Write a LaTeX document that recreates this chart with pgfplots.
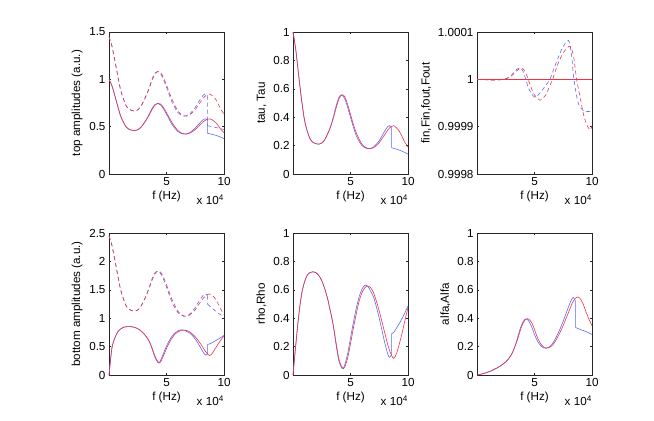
\documentclass[border=0pt]{standalone}
\usepackage{pgfplots}
\pgfplotsset{compat=1.18}
\usepackage{fontspec}
\setmainfont{Liberation Sans}
\definecolor{mblue}{RGB}{85,105,255}
\definecolor{mred}{RGB}{240,50,70}
\newcommand{\mfont}{\fontsize{11.7}{13}\selectfont}
\pgfplotsset{
  mstyle/.style={
    scale only axis, width=115bp, height=142bp, anchor=south west,
    xmin=0, xmax=10, xtick={5,10},
    tick align=inside, major tick length=2bp,
    axis line style={line width=0.5pt, black!85},
    every tick/.style={black!85, line width=0.4pt},
    tick label style={font=\mfont},
    label style={font=\mfont},
    /pgf/number format/assume math mode=true,
    xlabel={f (Hz)},
    xlabel style={yshift=2bp},
    clip=false,
    every axis plot/.append style={line width=0.6pt, smooth, tension=0.5},
  },
  bl/.style={mblue, solid},
  rd/.style={mred, solid},
  bld/.style={mblue, dash pattern=on 4bp off 3bp},
  rdd/.style={mred, dash pattern=on 4bp off 3bp},
}
\newcommand{\xpow}{\node[anchor=base east, font=\mfont, inner sep=0pt] at (rel axis cs:1,0) [yshift=-31bp] {x 10\textsuperscript{4}};}
\begin{document}
\begin{tikzpicture}
\useasboundingbox (0,0) rectangle (654bp,421bp);

% ---------------- top amplitudes
\begin{axis}[mstyle, at={(109bp,247bp)}, ymin=0, ymax=1.5, ytick={0,0.5,1,1.5}, ylabel={top amplitudes (a.u.)}]
\addplot[bld] coordinates {(0,1.45)(0.25,1.353)(0.5,1.205)(0.75,1.045)(1,0.893)(1.25,0.794)(1.5,0.718)(1.75,0.683)(2,0.67)(2.25,0.664)(2.5,0.677)(2.75,0.71)(3,0.767)(3.25,0.832)(3.5,0.917)(3.75,1.005)(4,1.066)(4.25,1.08)(4.5,1.056)(4.75,0.994)(5,0.917)(5.25,0.833)(5.5,0.753)(5.75,0.695)(6,0.648)(6.25,0.624)(6.5,0.612)(6.75,0.615)(7,0.632)(7.25,0.664)(7.5,0.703)(7.75,0.753)(8,0.801)(8.25,0.839)(8.4,0.845)(8.55,0.827)};
\addplot[bld, sharp plot] coordinates {(8.55,0.827)(8.56,0.51)};
\addplot[bld] coordinates {(8.56,0.51)(9,0.5)(9.5,0.485)(10,0.47)};
\addplot[bl] coordinates {(0,1.0)(0.25,0.933)(0.5,0.831)(0.75,0.721)(1,0.616)(1.25,0.548)(1.5,0.495)(1.75,0.471)(2,0.462)(2.25,0.458)(2.5,0.467)(2.75,0.49)(3,0.529)(3.25,0.574)(3.5,0.632)(3.75,0.693)(4,0.735)(4.25,0.745)(4.5,0.728)(4.75,0.686)(5,0.632)(5.25,0.574)(5.5,0.52)(5.75,0.48)(6,0.447)(6.25,0.43)(6.5,0.422)(6.75,0.424)(7,0.436)(7.25,0.458)(7.5,0.485)(7.75,0.52)(8,0.552)(8.25,0.579)(8.4,0.583)(8.55,0.57)};
\addplot[bl, sharp plot] coordinates {(8.55,0.57)(8.56,0.43)};
\addplot[bl] coordinates {(8.56,0.43)(9,0.418)(9.5,0.4)(10,0.374)};
\addplot[rdd] coordinates {(0,1.45)(0.25,1.353)(0.5,1.205)(0.75,1.045)(1,0.893)(1.25,0.794)(1.5,0.718)(1.75,0.683)(2,0.67)(2.25,0.664)(2.5,0.677)(2.75,0.71)(3,0.767)(3.25,0.832)(3.5,0.905)(3.75,0.989)(4,1.056)(4.25,1.083)(4.5,1.07)(4.75,1.015)(5,0.94)(5.25,0.858)(5.5,0.782)(5.75,0.718)(6,0.664)(6.25,0.632)(6.5,0.615)(6.75,0.612)(7,0.624)(7.25,0.648)(7.5,0.68)(7.75,0.725)(8,0.767)(8.25,0.808)(8.5,0.835)(8.75,0.845)(9,0.827)(9.25,0.794)(9.5,0.74)(9.75,0.68)(10,0.632)};
\addplot[rd] coordinates {(0,1.0)(0.25,0.933)(0.5,0.831)(0.75,0.721)(1,0.616)(1.25,0.548)(1.5,0.495)(1.75,0.471)(2,0.462)(2.25,0.458)(2.5,0.467)(2.75,0.49)(3,0.529)(3.25,0.574)(3.5,0.624)(3.75,0.682)(4,0.728)(4.25,0.747)(4.5,0.738)(4.75,0.7)(5,0.648)(5.25,0.592)(5.5,0.539)(5.75,0.495)(6,0.458)(6.25,0.436)(6.5,0.424)(6.75,0.422)(7,0.43)(7.25,0.447)(7.5,0.469)(7.75,0.5)(8,0.529)(8.25,0.557)(8.5,0.576)(8.75,0.583)(9,0.57)(9.25,0.548)(9.5,0.51)(9.75,0.469)(10,0.436)};
\xpow
\end{axis}

% ---------------- tau
\begin{axis}[mstyle, at={(293bp,247bp)}, ymin=0, ymax=1, ytick={0,0.2,0.4,0.6,0.8,1}, ylabel={tau, Tau}]
\addplot[bl] coordinates {(0,1)(0.25,0.87)(0.5,0.69)(0.75,0.52)(1,0.38)(1.25,0.3)(1.5,0.245)(1.75,0.222)(2,0.213)(2.25,0.21)(2.5,0.218)(2.75,0.24)(3,0.28)(3.25,0.33)(3.5,0.4)(3.75,0.48)(4,0.54)(4.25,0.555)(4.5,0.53)(4.75,0.47)(5,0.4)(5.25,0.33)(5.5,0.27)(5.75,0.23)(6,0.2)(6.25,0.185)(6.5,0.178)(6.75,0.18)(7,0.19)(7.25,0.21)(7.5,0.235)(7.75,0.27)(8,0.305)(8.25,0.335)(8.4,0.34)(8.55,0.325)};
\addplot[bl, sharp plot] coordinates {(8.55,0.325)(8.56,0.185)};
\addplot[bl] coordinates {(8.56,0.185)(9,0.175)(9.5,0.16)(10,0.14)};
\addplot[rd] coordinates {(0,1)(0.25,0.87)(0.5,0.69)(0.75,0.52)(1,0.38)(1.25,0.3)(1.5,0.245)(1.75,0.222)(2,0.213)(2.25,0.21)(2.5,0.218)(2.75,0.24)(3,0.28)(3.25,0.33)(3.5,0.39)(3.75,0.465)(4,0.53)(4.25,0.558)(4.5,0.545)(4.75,0.49)(5,0.42)(5.25,0.35)(5.5,0.29)(5.75,0.245)(6,0.21)(6.25,0.19)(6.5,0.18)(6.75,0.178)(7,0.185)(7.25,0.2)(7.5,0.22)(7.75,0.25)(8,0.28)(8.25,0.31)(8.5,0.332)(8.75,0.34)(9,0.325)(9.25,0.3)(9.5,0.26)(9.75,0.22)(10,0.19)};
\xpow
\end{axis}

% ---------------- fin, Fin, fout, Fout  (deviation from 1 in units of 1e-4)
\begin{axis}[mstyle, at={(477bp,247bp)}, ymin=-2, ymax=1, ytick={-2,-1,0,1}, yticklabels={0.9998,0.9999,1,1.0001}, ylabel={fin,Fin,fout,Fout}]
\addplot[bl, sharp plot] coordinates {(0,0)(10,0)};
\addplot[bld] coordinates {(0,0)(0.5,-0.003)(1,-0.012)(1.5,-0.015)(2,-0.01)(2.5,0.01)(3,0.09)(3.4,0.2)(3.75,0.24)(4,0.17)(4.24,0)(4.5,-0.2)(5.03,-0.38)(5.5,-0.28)(6,-0.12)(6.34,0)(6.8,0.3)(7.4,0.65)(7.94,0.82)(8.2,0.55)(8.43,0)(8.8,-0.5)(9.24,-0.66)(9.6,-0.68)(10,-0.68)};
\addplot[rd, sharp plot] coordinates {(0,0)(10,0)};
\addplot[rdd] coordinates {(0,0)(0.5,-0.003)(1,-0.012)(1.5,-0.015)(2,-0.01)(2.5,0.01)(3,0.07)(3.4,0.17)(3.85,0.24)(4.2,0.16)(4.45,0)(4.7,-0.17)(5,-0.33)(5.5,-0.44)(6,-0.32)(6.3,-0.15)(6.57,0)(7,0.3)(7.5,0.56)(8.08,0.7)(8.4,0.48)(8.66,0)(9,-0.42)(9.24,-0.72)(9.5,-0.93)(9.83,-1.07)(10,-0.98)};
\xpow
\end{axis}

% ---------------- bottom amplitudes
\begin{axis}[mstyle, at={(109bp,46bp)}, ymin=0, ymax=2.5, ytick={0,0.5,1,1.5,2,2.5}, ylabel={bottom amplitudes (a.u.)}]
\addplot[bld] coordinates {(0,2.45)(0.25,2.286)(0.5,2.036)(0.75,1.766)(1,1.509)(1.25,1.342)(1.5,1.213)(1.75,1.154)(2,1.132)(2.25,1.122)(2.5,1.144)(2.75,1.2)(3,1.296)(3.25,1.406)(3.5,1.549)(3.75,1.697)(4,1.8)(4.25,1.825)(4.5,1.784)(4.75,1.68)(5,1.549)(5.25,1.407)(5.5,1.273)(5.75,1.175)(6,1.096)(6.25,1.054)(6.5,1.034)(6.75,1.039)(7,1.068)(7.25,1.123)(7.5,1.188)(7.75,1.273)(8,1.353)(8.25,1.418)(8.4,1.429)(8.55,1.397)};
\addplot[bld, sharp plot] coordinates {(8.55,1.397)(8.56,1.25)};
\addplot[bld] coordinates {(8.56,1.25)(9,1.17)(9.5,1.09)(10,1.02)};
\addplot[bl] coordinates {(0,0)(0.25,0.469)(0.5,0.648)(0.75,0.755)(1,0.809)(1.25,0.84)(1.5,0.85)(1.75,0.853)(2,0.849)(2.25,0.837)(2.5,0.815)(2.75,0.781)(3,0.735)(3.25,0.671)(3.5,0.592)(3.75,0.458)(4,0.308)(4.25,0.219)(4.35,0.212)(4.5,0.265)(4.75,0.387)(5,0.51)(5.25,0.608)(5.5,0.686)(5.75,0.742)(6,0.778)(6.25,0.795)(6.5,0.791)(6.75,0.768)(7,0.742)(7.25,0.693)(7.5,0.632)(7.75,0.557)(8,0.469)(8.25,0.381)(8.4,0.352)(8.55,0.374)};
\addplot[bl, sharp plot] coordinates {(8.55,0.374)(8.56,0.539)};
\addplot[bl] coordinates {(8.56,0.539)(8.75,0.548)(9,0.574)(9.5,0.632)(10,0.697)};
\addplot[rdd] coordinates {(0,2.45)(0.25,2.286)(0.5,2.036)(0.75,1.766)(1,1.509)(1.25,1.342)(1.5,1.213)(1.75,1.154)(2,1.132)(2.25,1.122)(2.5,1.144)(2.75,1.2)(3,1.296)(3.25,1.406)(3.5,1.529)(3.75,1.671)(4,1.784)(4.25,1.83)(4.5,1.808)(4.75,1.715)(5,1.588)(5.25,1.45)(5.5,1.321)(5.75,1.213)(6,1.122)(6.25,1.068)(6.5,1.039)(6.75,1.034)(7,1.054)(7.25,1.095)(7.5,1.149)(7.75,1.225)(8,1.296)(8.25,1.365)(8.5,1.411)(8.75,1.428)(9,1.397)(9.25,1.342)(9.5,1.25)(9.75,1.149)(10,1.068)};
\addplot[rd] coordinates {(0,0)(0.25,0.469)(0.5,0.648)(0.75,0.755)(1,0.809)(1.25,0.84)(1.5,0.85)(1.75,0.853)(2,0.849)(2.25,0.837)(2.5,0.815)(2.75,0.781)(3,0.735)(3.25,0.671)(3.5,0.592)(3.75,0.474)(4,0.332)(4.25,0.235)(4.4,0.214)(4.5,0.235)(4.75,0.346)(5,0.469)(5.25,0.574)(5.5,0.656)(5.75,0.721)(6,0.762)(6.25,0.784)(6.5,0.791)(6.75,0.784)(7,0.762)(7.25,0.721)(7.5,0.671)(7.75,0.608)(8,0.539)(8.25,0.458)(8.5,0.387)(8.75,0.342)(9,0.387)(9.25,0.469)(9.5,0.548)(9.75,0.624)(10,0.688)};
\xpow
\end{axis}

% ---------------- rho
\begin{axis}[mstyle, at={(293bp,46bp)}, ymin=0, ymax=1, ytick={0,0.2,0.4,0.6,0.8,1}, ylabel={rho,Rho}]
\addplot[bl] coordinates {(0,0)(0.25,0.22)(0.5,0.42)(0.75,0.57)(1,0.655)(1.25,0.705)(1.5,0.722)(1.75,0.727)(2,0.72)(2.25,0.7)(2.5,0.665)(2.75,0.61)(3,0.54)(3.25,0.45)(3.5,0.35)(3.75,0.21)(4,0.095)(4.25,0.048)(4.35,0.045)(4.5,0.07)(4.75,0.15)(5,0.26)(5.25,0.37)(5.5,0.47)(5.75,0.55)(6,0.605)(6.25,0.632)(6.5,0.625)(6.75,0.59)(7,0.55)(7.25,0.48)(7.5,0.4)(7.75,0.31)(8,0.22)(8.25,0.145)(8.4,0.124)(8.55,0.14)};
\addplot[bl, sharp plot] coordinates {(8.55,0.14)(8.56,0.29)};
\addplot[bl] coordinates {(8.56,0.29)(8.75,0.3)(9,0.33)(9.5,0.4)(10,0.486)};
\addplot[rd] coordinates {(0,0)(0.25,0.22)(0.5,0.42)(0.75,0.57)(1,0.655)(1.25,0.705)(1.5,0.722)(1.75,0.727)(2,0.72)(2.25,0.7)(2.5,0.665)(2.75,0.61)(3,0.54)(3.25,0.45)(3.5,0.35)(3.75,0.225)(4,0.11)(4.25,0.055)(4.4,0.046)(4.5,0.055)(4.75,0.12)(5,0.22)(5.25,0.33)(5.5,0.43)(5.75,0.52)(6,0.58)(6.25,0.615)(6.5,0.626)(6.75,0.615)(7,0.58)(7.25,0.52)(7.5,0.45)(7.75,0.37)(8,0.29)(8.25,0.21)(8.5,0.15)(8.75,0.117)(9,0.15)(9.25,0.22)(9.5,0.3)(9.75,0.39)(10,0.474)};
\xpow
\end{axis}

% ---------------- alfa
\begin{axis}[mstyle, at={(477bp,46bp)}, ymin=0, ymax=1, ytick={0,0.2,0.4,0.6,0.8,1}, ylabel={alfa,Alfa}]
\addplot[bl] coordinates {(0,0)(0.25,0.004)(0.5,0.009)(0.75,0.015)(1,0.022)(1.25,0.03)(1.5,0.04)(1.75,0.05)(2,0.062)(2.25,0.076)(2.5,0.092)(2.75,0.115)(3,0.145)(3.25,0.19)(3.5,0.255)(3.75,0.325)(4,0.375)(4.25,0.395)(4.5,0.38)(4.75,0.34)(5,0.285)(5.25,0.24)(5.5,0.21)(5.75,0.193)(6,0.188)(6.25,0.195)(6.5,0.215)(6.75,0.245)(7,0.285)(7.25,0.33)(7.5,0.38)(7.75,0.435)(8,0.49)(8.25,0.535)(8.4,0.545)(8.55,0.52)};
\addplot[bl, sharp plot] coordinates {(8.55,0.52)(8.56,0.335)};
\addplot[bl] coordinates {(8.56,0.335)(9,0.32)(9.5,0.305)(10,0.285)};
\addplot[rd] coordinates {(0,0)(0.25,0.004)(0.5,0.009)(0.75,0.015)(1,0.022)(1.25,0.03)(1.5,0.04)(1.75,0.05)(2,0.062)(2.25,0.076)(2.5,0.092)(2.75,0.115)(3,0.145)(3.25,0.19)(3.5,0.245)(3.75,0.31)(4,0.365)(4.25,0.393)(4.4,0.397)(4.5,0.393)(4.75,0.37)(5,0.32)(5.25,0.265)(5.5,0.225)(5.75,0.2)(6,0.19)(6.25,0.192)(6.5,0.205)(6.75,0.23)(7,0.265)(7.25,0.305)(7.5,0.35)(7.75,0.4)(8,0.45)(8.25,0.5)(8.5,0.535)(8.75,0.55)(9,0.535)(9.25,0.495)(9.5,0.44)(9.75,0.39)(10,0.346)};
\xpow
\end{axis}
\end{tikzpicture}
\end{document}
